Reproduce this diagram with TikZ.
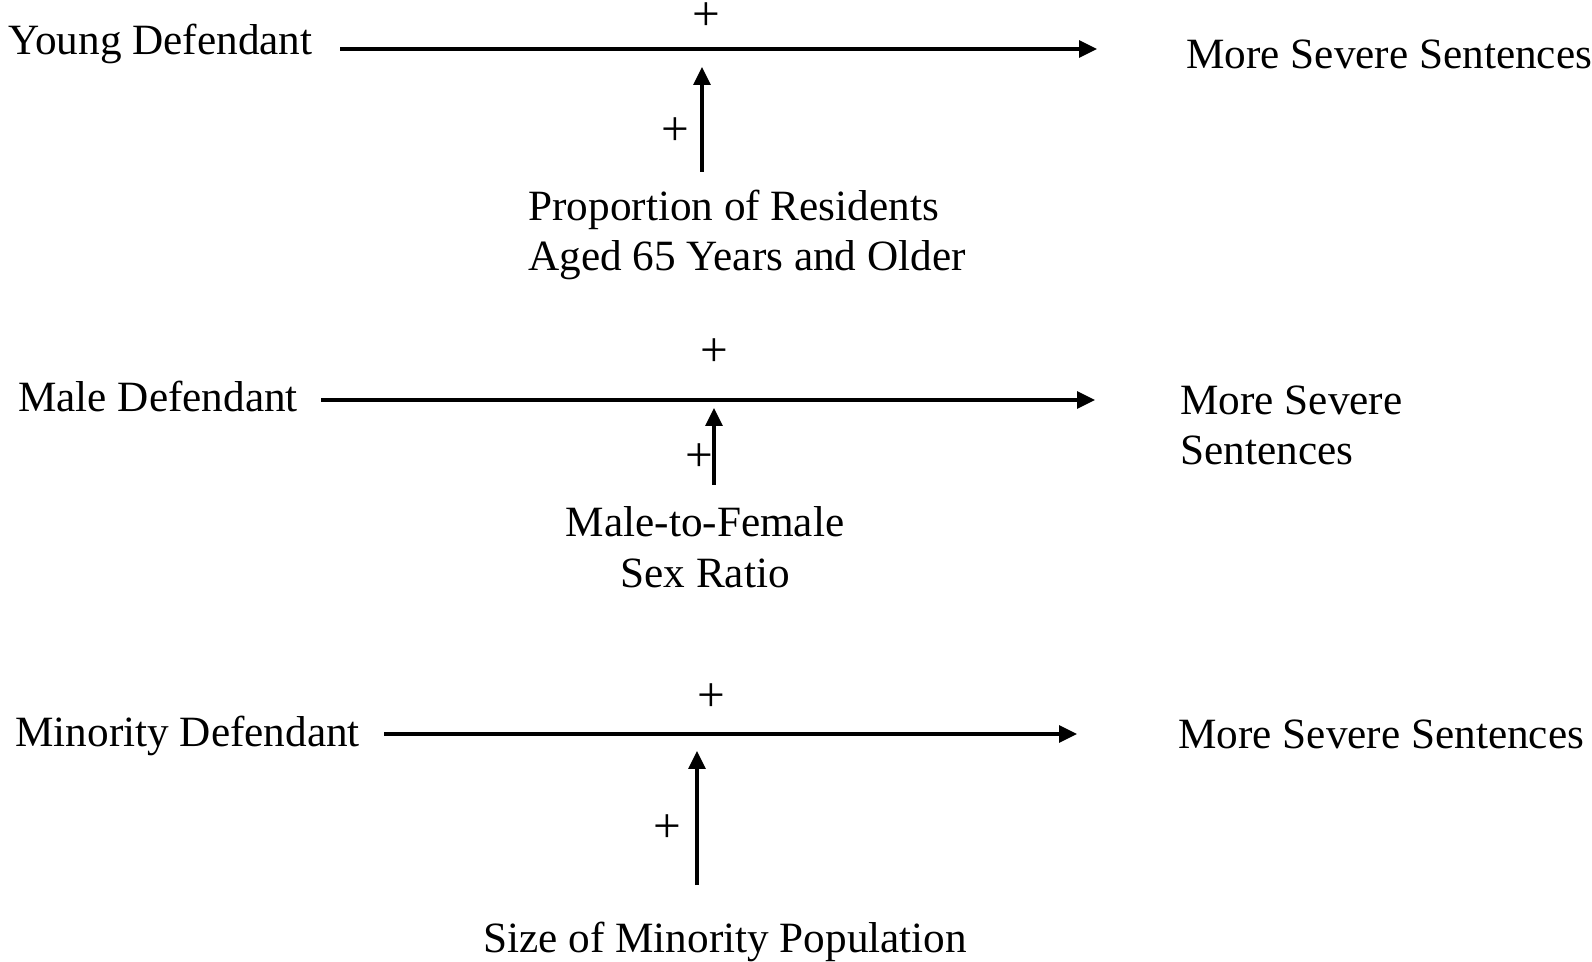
\documentclass[tikz,border=0pt]{standalone}
\usepackage{fontspec}
\setmainfont{Liberation Serif}
\usetikzlibrary{arrows.meta}

\begin{document}
\begin{tikzpicture}
      [ x = .02cm
      , y = -.02cm
      , label/.style =
        { inner sep = 0, font = \fontsize{24.6}{29}\selectfont }
      , sign/.style =
        { inner sep = 0, anchor = center, font = \fontsize{28}{28}\selectfont }
      , link/.style =
        { line width = .065cm, -{Triangle[length=.36cm, width=.34cm]} }
      ]
      \useasboundingbox (0, 0) rectangle (1592, 962);
      % age
      \node [label, anchor=base west] (young) at (8, 55) {Young Defendant};
      \node [label, anchor=base west] (severe1) at (1186, 69) {More Severe Sentences};
      \node [label, anchor=base west, align=left] (elderly) at (528, 271)
        {Proportion of Residents\\Aged 65 Years and Older};
      \node [sign] (plus1) at (706, 17) {+};
      \node [sign] (plus2) at (675, 132) {+};
      \coordinate (a0) at (340, 49);
      \coordinate (a1) at (1097, 49);
      \coordinate (b0) at (702, 172);
      \coordinate (b1) at (702, 67);
      \draw [link] (a0) to (a1);
      \draw [link] (b0) to (b1);
      % sex
      \node [label, anchor=base west] (male) at (18, 412) {Male Defendant};
      \node [label, anchor=base west, align=left] (severe2) at (1180, 465)
        {More Severe\\Sentences};
      \node [label, anchor=base, align=center] (ratio) at (705, 587)
        {Male-to-Female\\Sex Ratio};
      \node [sign] (plus3) at (714, 353) {+};
      \node [sign] (plus4) at (699, 458) {+};
      \coordinate (c0) at (321, 400);
      \coordinate (c1) at (1095, 400);
      \coordinate (d0) at (714, 485);
      \coordinate (d1) at (714, 408);
      \draw [link] (c0) to (c1);
      \draw [link] (d0) to (d1);
      % race
      \node [label, anchor=base west] (minority) at (15, 746) {Minority Defendant};
      \node [label, anchor=base west] (severe3) at (1178, 748) {More Severe Sentences};
      \node [label, anchor=base west] (size) at (483, 952) {Size of Minority Population};
      \node [sign] (plus5) at (711, 698) {+};
      \node [sign] (plus6) at (667, 829) {+};
      \coordinate (e0) at (384, 734);
      \coordinate (e1) at (1077, 734);
      \coordinate (f0) at (697, 885);
      \coordinate (f1) at (697, 751);
      \draw [link] (e0) to (e1);
      \draw [link] (f0) to (f1);
    \end{tikzpicture}
\end{document}
